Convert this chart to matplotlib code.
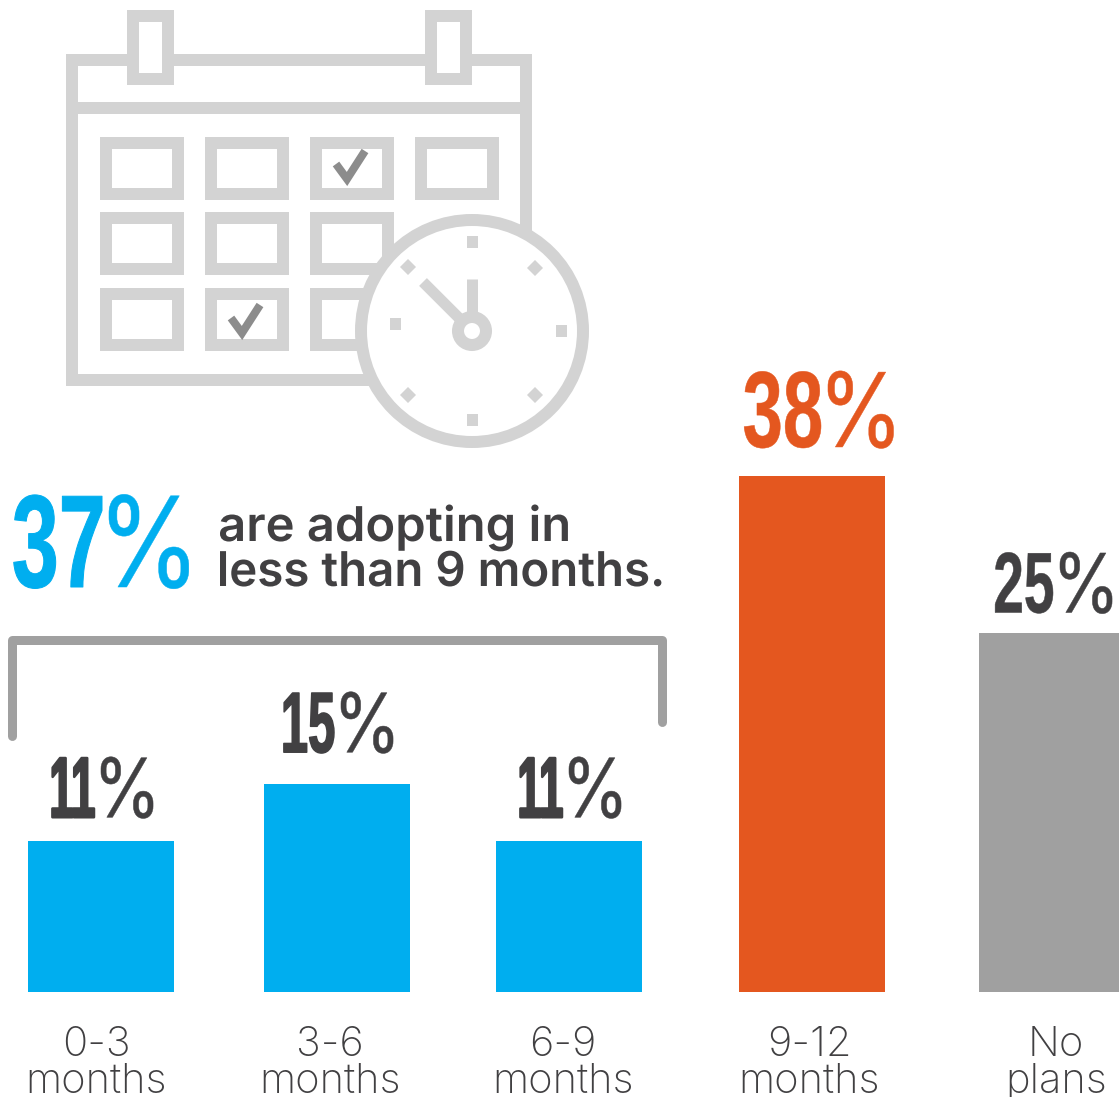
import matplotlib
matplotlib.use('Agg')
import matplotlib.pyplot as plt
from matplotlib.colors import to_rgb
from matplotlib.patches import Rectangle, Circle, RegularPolygon
from matplotlib.text import Text
from matplotlib.textpath import TextPath
from matplotlib.transforms import Affine2D, offset_copy

# data
categories = ['0-3\nmonths', '3-6\nmonths', '6-9\nmonths', '9-12\nmonths', 'No\nplans']
bar_heights = [11.1, 15.3, 11.1, 38.0, 26.4]  # as drawn, the 25% bar is a bit too tall in the original
bar_labels = ['11', '15', '11', '38', '25']
bar_colors = ['#00AEEF', '#00AEEF', '#00AEEF', '#E4571F', '#A0A0A0']
label_colors = ['#414042', '#414042', '#414042', '#E4571F', '#414042']

# layout, in pixels of the 1119x1097 picture
W, H = 1119, 1097
PX = 72 / 100  # one pixel in points
bar_x = [101, 337, 569, 812, 1052]
cat_x = [96, 330, 563, 809, 1056]
label_split = [97, 337, 565, 824, 1056]
label_gap = [24, 32, 24, 29, 21]
label_size = [62, 62, 62, 78, 62]
digit_squeeze = [0.50, 0.57, 0.50, 0.67, 0.64]
digit_stroke = [2.5, 1.5, 2.5, 0.5, 0.5]
BASE = 992
UNIT = 13.58

SANS = 'Liberation Sans'
GREY = '#D3D3D3'
DARK = '#414042'


class SqueezedText(Text):
    # no condensed font is installed, so draw the glyph outlines narrower
    def __init__(self, *args, squeeze=1.0, stroke=0, **kwargs):
        super().__init__(*args, **kwargs)
        self.squeeze = squeeze
        self.stroke = stroke

    def _outline(self):
        size = self.get_fontsize() * self.get_figure().dpi / 72
        path = TextPath((0, 0), self.get_text(), size=size, prop=self.get_fontproperties())
        bb = path.get_extents()
        x, y = self.get_transform().transform(self.get_position())
        start = bb.x1 if self.get_ha() == 'right' else bb.x0
        return path, Affine2D().scale(self.squeeze, 1).translate(x - start * self.squeeze, y)

    def draw(self, renderer):
        path, tr = self._outline()
        gc = renderer.new_gc()
        gc.set_linewidth(self.stroke * PX)
        gc.set_foreground(self.get_color())
        renderer.draw_path(gc, path, tr, to_rgb(self.get_color()))
        gc.restore()

    def get_window_extent(self, renderer=None, dpi=None):
        path, tr = self._outline()
        return path.get_extents(tr)


fig = plt.figure(figsize=(W / 100, H / 100), dpi=100)

# bars
ax = fig.add_axes([0, 0, 1, 1])
ax.set_xlim(0, W)
ax.set_ylim((BASE - H) / UNIT, BASE / UNIT)
ax.axis('off')
ax.bar(bar_x, bar_heights, width=146, color=bar_colors)


def percent(axes, x, y, digits, size, color, trans, squeeze, stroke):
    # number and percent sign are two weights
    axes.add_artist(SqueezedText(x - 3, y, digits, squeeze=squeeze, stroke=stroke, ha='right', fontsize=size,
                                 family=SANS, fontweight='bold', color=color, transform=trans))
    axes.add_artist(SqueezedText(x + 4, y, '%', squeeze=0.84, stroke=0.5, ha='left', fontsize=size * 0.95,
                                 family='Inter', color=color, transform=trans))


for i, v in enumerate(bar_heights):
    lift = offset_copy(ax.transData, fig=fig, y=label_gap[i], units='dots')
    percent(ax, label_split[i], v, bar_labels[i], label_size[i], label_colors[i], lift, digit_squeeze[i], digit_stroke[i])

for x, c in zip(cat_x, categories):
    ax.annotate(c, xy=(x, 0), xytext=(0, -101 * PX), textcoords='offset points', ha='center', va='baseline',
                fontsize=30, family=['Inter', 'DejaVu Sans'], color=DARK, linespacing=0.95, fontweight='light',
                annotation_clip=False)

# overlay in pixels for the icon and the callout
ov = fig.add_axes([0, 0, 1, 1])
ov.set_xlim(0, W)
ov.set_ylim(H, 0)
ov.axis('off')
ov.patch.set_alpha(0)


def box(x0, y0, x1, y1, lw=12, zorder=2):
    # outer edges given, stroke drawn inside
    ov.add_patch(Rectangle((x0 + lw / 2, y0 + lw / 2), x1 - x0 - lw, y1 - y0 - lw, fill=True, facecolor='white',
                           edgecolor=GREY, linewidth=lw * PX, joinstyle='miter', zorder=zorder))


# calendar
box(66, 54, 532, 386)
ov.plot([70, 528], [108, 108], color=GREY, lw=12 * PX, solid_capstyle='butt', zorder=2)
for x0 in [127, 425]:
    box(x0, 10, x0 + 47, 85, zorder=3)
for y0, y1 in [(137, 200), (212, 275), (288, 351)]:
    for x0 in [100, 205, 310, 415]:
        if y0 > 137 and x0 == 415:
            continue
        box(x0, y0, x0 + 84, y1)

# checks
for dx, dy in [(0, 0), (-105, 154)]:
    ov.plot([336 + dx, 347 + dx, 365 + dx], [164 + dy, 179 + dy, 151 + dy], color='#8C8C8C', lw=8 * PX,
            solid_capstyle='butt', solid_joinstyle='miter', zorder=4)

# clock
CX, CY = 472, 331
ov.add_patch(Circle((CX, CY), 111, facecolor='white', edgecolor=GREY, linewidth=12 * PX, zorder=5))
for x, y in [(472, 242), (472, 420), (395, 324), (561, 331)]:
    ov.add_patch(Rectangle((x - 5.5, y - 6), 11, 12, color=GREY, linewidth=0, zorder=6))
for x, y in [(408, 267), (535, 268), (408, 395), (535, 395)]:
    ov.add_patch(RegularPolygon((x, y), 4, radius=8, color=GREY, linewidth=0, zorder=6))
ov.plot([472, 472], [279, CY], color=GREY, lw=11 * PX, solid_capstyle='butt', zorder=6)
ov.plot([423, CX], [282, CY], color=GREY, lw=11 * PX, solid_capstyle='butt', zorder=6)
ov.add_patch(Circle((CX, CY), 14, facecolor='white', edgecolor=GREY, linewidth=12 * PX, zorder=7))

# callout
percent(ov, 105, 587, '37', 95, '#00AEEF', ov.transData, 0.64, 1)
ov.add_artist(SqueezedText(220, 541, 'are adopting in', squeeze=1.02, ha='left', fontsize=34.5, family='Inter',
                           fontweight='semibold', color=DARK, transform=ov.transData))
ov.add_artist(SqueezedText(220, 586, 'less than 9 months.', squeeze=0.99, ha='left', fontsize=34.5, family='Inter',
                           fontweight='semibold', color=DARK, transform=ov.transData))

# bracket
ov.plot([12, 12, 662, 662], [736, 640, 640, 722], color='#A0A0A0', lw=9 * PX, solid_capstyle='round', solid_joinstyle='round')

fig.savefig('out.png', dpi=100, facecolor='white')
